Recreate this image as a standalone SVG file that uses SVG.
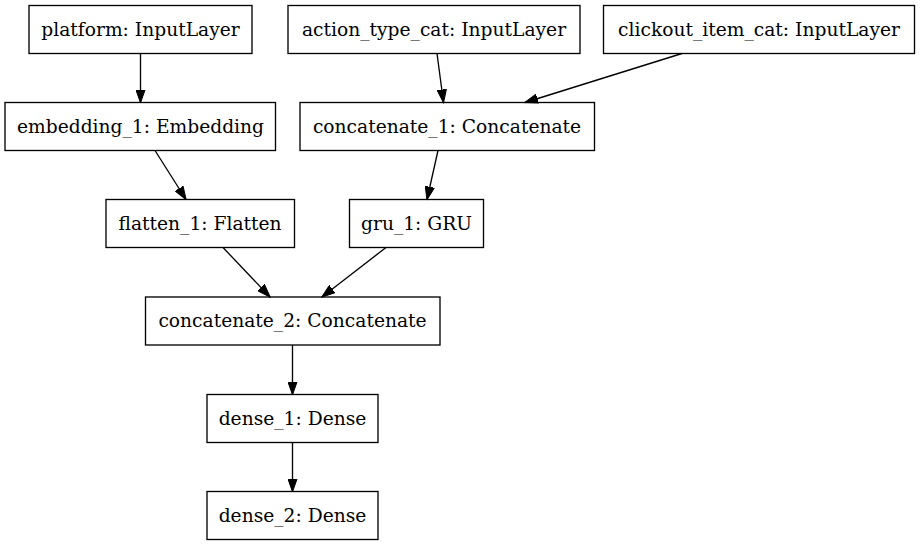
<svg xmlns="http://www.w3.org/2000/svg" width="920" height="547" viewBox="0 0 920 547">
<defs>
<marker id="ah" markerUnits="userSpaceOnUse" markerWidth="14" markerHeight="10" refX="13" refY="5" orient="auto">
<polygon points="0,0.3 13.3,5 0,9.7" fill="#000" stroke="#000" stroke-width="1"/>
</marker>
<style>
rect{fill:#fff;stroke:#000;stroke-width:1.33}
text{font-family:"DejaVu Serif","Liberation Serif",serif;font-size:18.67px;text-anchor:middle;fill:#000}
.e line{stroke:#000;stroke-width:1.33;marker-end:url(#ah)}
</style>
</defs>
<rect x="0" y="0" width="920" height="547" style="stroke:none"/>
<g id="platform"><rect x="29" y="5.5" width="223" height="48"/><text x="140.5" y="35.5">platform: InputLayer</text></g>
<g id="action_type_cat"><rect x="288" y="5.5" width="292" height="48"/><text x="434" y="35.5">action_type_cat: InputLayer</text></g>
<g id="clickout_item_cat"><rect x="603.5" y="5.5" width="311" height="48"/><text x="759" y="35.5">clickout_item_cat: InputLayer</text></g>
<g id="embedding_1"><rect x="5" y="102.5" width="270.5" height="48"/><text x="140.5" y="132.5">embedding_1: Embedding</text></g>
<g id="concatenate_1"><rect x="300" y="102.5" width="294.5" height="48"/><text x="447" y="132.5">concatenate_1: Concatenate</text></g>
<g id="flatten_1"><rect x="106" y="199.5" width="188.5" height="48"/><text x="200" y="229.5">flatten_1: Flatten</text></g>
<g id="gru_1"><rect x="349.5" y="199.5" width="134" height="48"/><text x="416.5" y="229.5">gru_1: GRU</text></g>
<g id="concatenate_2"><rect x="145.5" y="297" width="294.5" height="48"/><text x="292.5" y="327">concatenate_2: Concatenate</text></g>
<g id="dense_1"><rect x="207" y="394.5" width="171" height="48"/><text x="292.5" y="424.5">dense_1: Dense</text></g>
<g id="dense_2"><rect x="207" y="491.5" width="171" height="48"/><text x="292.5" y="521.5">dense_2: Dense</text></g>
<g id="connectors" class="e">
<line x1="140.5" y1="53.5" x2="140.5" y2="102.5"/>
<line x1="437" y1="53.5" x2="443.5" y2="102.5"/>
<line x1="682" y1="53.5" x2="525" y2="102.5"/>
<line x1="155" y1="150.5" x2="186" y2="199.5"/>
<line x1="438" y1="150.5" x2="427" y2="199.5"/>
<line x1="223" y1="247.5" x2="270" y2="297"/>
<line x1="386" y1="247.5" x2="322" y2="297"/>
<line x1="292.5" y1="345" x2="292.5" y2="394.5"/>
<line x1="292.5" y1="442.5" x2="292.5" y2="491.5"/>
</g>
</svg>
